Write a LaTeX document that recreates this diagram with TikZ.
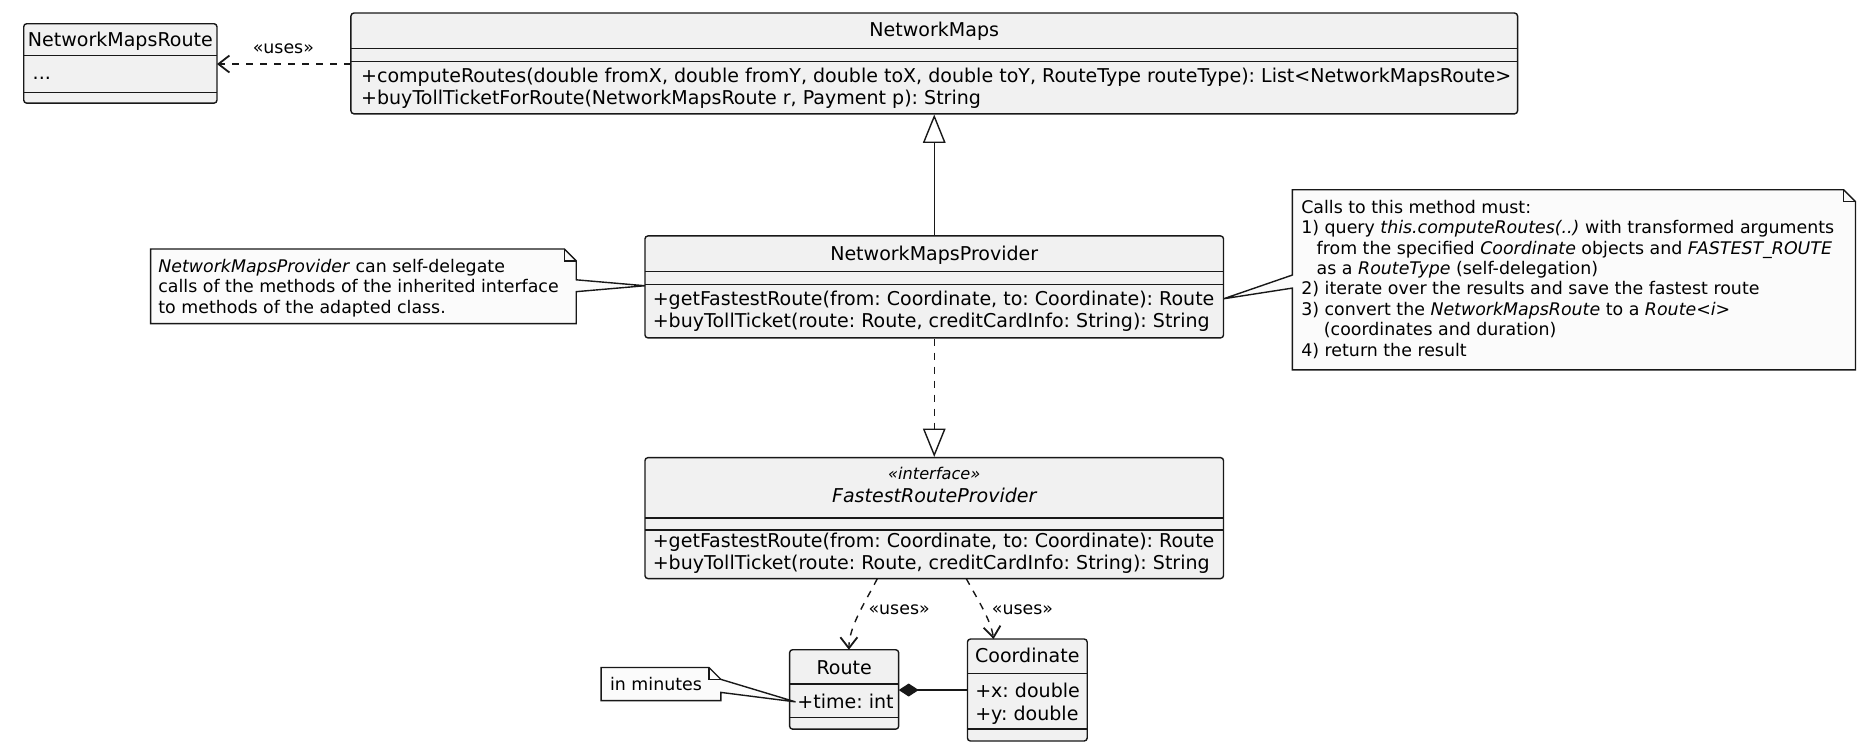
\documentclass[tikz,border=0pt]{standalone}
\usepackage{fontspec}
\setmainfont{DejaVu Sans}
\usetikzlibrary{fit,arrows.meta}
\definecolor{clsfill}{HTML}{F1F1F1}
\definecolor{notefill}{HTML}{FBFBFB}
\definecolor{linec}{HTML}{181818}
\frenchspacing
\begin{document}
\begin{tikzpicture}[x=0.5928pt,y=-0.5928pt,line width=0.7pt,
  cls/.style={draw=linec,fill=clsfill,rounded corners=1.5pt,inner sep=0pt,line width=0.7pt},
  sepline/.style={draw=linec,line width=0.7pt},
  notebox/.style={draw=linec,fill=notefill,line width=0.7pt,line join=miter},
  mem/.style={font=\fontsize{9.52}{11.3}\selectfont,anchor=base west,inner sep=0pt},
  cname/.style={font=\fontsize{9.52}{11.3}\selectfont,anchor=base,inner sep=0pt},
  ntext/.style={font=\fontsize{8.7}{10.3}\selectfont,anchor=base west,inner sep=0pt},
  lbl/.style={font=\fontsize{8.7}{10.3}\selectfont,anchor=base,inner sep=0pt},
  stereo/.style={font=\fontsize{8.1}{9.5}\selectfont\itshape,anchor=base,inner sep=0pt},
  dep/.style={draw=linec,dash pattern=on 3.5pt off 3.5pt,-{Straight Barb[length=5.5pt,width=8.5pt,line width=0.9pt]}},
  gen/.style={draw=linec,-{Triangle[open,length=14.2pt,width=11.3pt,fill=white]}},
  real/.style={draw=linec,dash pattern=on 3.5pt off 3.5pt,-{Triangle[open,length=14.2pt,width=11.3pt,fill=white]}},
  comp/.style={draw=linec,-{Diamond[length=10pt,width=6.5pt,fill=linec]}}
]
\useasboundingbox (0,0) rectangle (1568,636.8);

% ---------- NetworkMapsRoute ----------
\node[cls,fit={(20,20) (183,87)}] (nmr) {};
\draw[sepline] (20,47) -- (183,47);
\draw[sepline] (20,78) -- (183,78);
\node[cname] (nmrname) at (101.5,39.5) {NetworkMapsRoute};
\node[mem] (nmrdots) at (27,67) {...};

% ---------- NetworkMaps ----------
\node[cls,fit={(296,11) (1280,96)}] (nm) {};
\draw[sepline] (296,41) -- (1280,41);
\draw[sepline] (296,52) -- (1280,52);
\node[cname] (nmname) at (788,31) {NetworkMaps};
\node[mem] (nmm1) at (304,69.5) {+computeRoutes(double fromX, double fromY, double toX, double toY, RouteType routeType): List<NetworkMapsRoute>};
\node[mem] (nmm2) at (304,88.5) {+buyTollTicketForRoute(NetworkMapsRoute r, Payment p): String};

% ---------- NetworkMapsProvider ----------
\node[cls,fit={(544,199) (1032,285)}] (nmp) {};
\draw[sepline] (544,229) -- (1032,229);
\draw[sepline] (544,240) -- (1032,240);
\node[cname] (nmpname) at (788,219.5) {NetworkMapsProvider};
\node[mem] (nmpm1) at (550,257.5) {+getFastestRoute(from: Coordinate, to: Coordinate): Route};
\node[mem] (nmpm2) at (550,276.5) {+buyTollTicket(route: Route, creditCardInfo: String): String};

% ---------- FastestRouteProvider ----------
\node[cls,fit={(544,386) (1032,488)}] (frp) {};
\draw[sepline] (544,437) -- (1032,437);
\draw[sepline] (544,447) -- (1032,447);
\node[stereo] (frpst) at (788,404.5) {«interface»};
\node[cname,font=\fontsize{9.52}{11.3}\selectfont\itshape] (frpname) at (788,423.5) {FastestRouteProvider};
\node[mem] (frpm1) at (550,461.5) {+getFastestRoute(from: Coordinate, to: Coordinate): Route};
\node[mem] (frpm2) at (550,480.5) {+buyTollTicket(route: Route, creditCardInfo: String): String};

% ---------- Route ----------
\node[cls,fit={(666,548) (758,615)}] (rt) {};
\draw[sepline] (666,577) -- (758,577);
\draw[sepline] (666,605) -- (758,605);
\node[cname] (rtname) at (712,568.5) {Route};
\node[mem] (rtm1) at (672,597.5) {+time: int};

% ---------- Coordinate ----------
\node[cls,fit={(816,539) (917,625)}] (co) {};
\draw[sepline] (816,568) -- (917,568);
\draw[sepline] (816,615) -- (917,615);
\node[cname] (coname) at (866.5,558.5) {Coordinate};
\node[mem] (com1) at (822,588.5) {+x: double};
\node[mem] (com2) at (822,607.5) {+y: double};

% ---------- Notes ----------
\coordinate (n1tip) at (544,241);
\draw[notebox] (127,210) -- (476,210) -- (486,220) -- (486,236) -- (n1tip) -- (486,246) -- (486,273) -- (127,273) -- cycle;
\draw[notebox,fill=none] (476,210) -- (476,220) -- (486,220);
\node[ntext] (n1a) at (133,230) {\textit{NetworkMapsProvider} can self-delegate};
\node[ntext] (n1b) at (133,247) {calls of the methods of the inherited interface};
\node[ntext] (n1c) at (133,264) {to methods of the adapted class.};

\coordinate (n2tip) at (1032,252);
\draw[notebox] (1090,160) -- (1555,160) -- (1565,170) -- (1565,312) -- (1090,312) -- (1090,243) -- (n2tip) -- (1090,232) -- cycle;
\draw[notebox,fill=none] (1555,160) -- (1555,170) -- (1565,170);
\node[ntext] (n2a) at (1097,180) {Calls to this method must:};
\node[ntext] (n2b) at (1097,197.2) {1) query \textit{this.computeRoutes(..)} with transformed arguments};
\node[ntext] (n2c) at (1097,214.4) {\hspace*{7.7pt}from the specified \textit{Coordinate} objects and \textit{FASTEST\_ROUTE}};
\node[ntext] (n2d) at (1097,231.6) {\hspace*{7.7pt}as a \textit{RouteType} (self-delegation)};
\node[ntext] (n2e) at (1097,248.8) {2) iterate over the results and save the fastest route};
\node[ntext] (n2f) at (1097,266) {3) convert the \textit{NetworkMapsRoute} to a \textit{Route<i>}};
\node[ntext] (n2g) at (1097,283.2) {\hspace*{11.3pt}(coordinates and duration)};
\node[ntext] (n2h) at (1097,300.4) {4) return the result};

\coordinate (n3tip) at (671,592);
\draw[notebox] (507,563) -- (598,563) -- (608,573) -- (n3tip) -- (608,584) -- (608,591) -- (507,591) -- cycle;
\draw[notebox,fill=none] (598,563) -- (598,573) -- (608,573);
\node[ntext] (n3a) at (514,582) {in minutes};

% ---------- Connectors ----------
\coordinate (nmW) at (296,54);
\coordinate (nmrE) at (183,54);
\draw[dep] (nmW) -- (nmrE);
\node[lbl] (l1) at (239,45) {«uses»};

\draw[gen] (nmp.north) -- (nm.south);
\draw[real] (nmp.south) -- (frp.north);

\coordinate (frpA) at (740,488);
\coordinate (rtN) at (716,548);
\draw[dep] (frpA) .. controls (731,506) and (716,528) .. (rtN);
\node[lbl,anchor=base west] (l2) at (732,518) {«uses»};

\coordinate (frpB) at (815,488);
\coordinate (coN) at (838,539);
\draw[dep] (frpB) .. controls (823,503) and (836,523) .. (coN);
\node[lbl,anchor=base west] (l3) at (836,518) {«uses»};

\coordinate (coW) at (816,582);
\coordinate (rtE) at (758,582);
\draw[comp] (coW) -- (rtE);
\end{tikzpicture}
\end{document}
